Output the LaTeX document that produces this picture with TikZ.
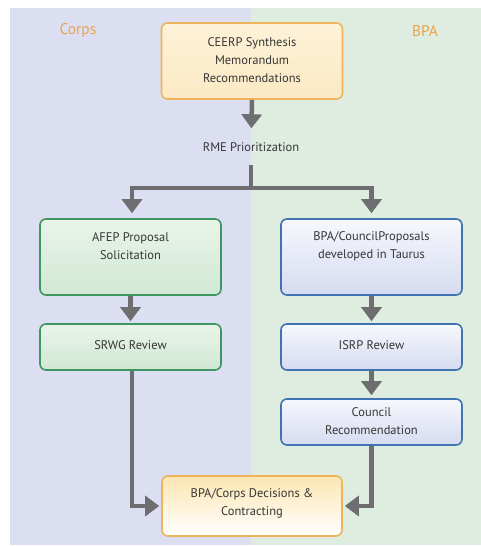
\documentclass[tikz,border=0pt]{standalone}
\usepackage{fontspec}
\setmainfont{PT Sans}
\usetikzlibrary{arrows.meta,positioning}
\definecolor{lav}{HTML}{DCDFF2}
\definecolor{grn}{HTML}{DEEDE0}
\definecolor{obord}{HTML}{EDB45C}
\definecolor{gbord}{HTML}{3E9760}
\definecolor{bbord}{HTML}{3F74B0}
\definecolor{arr}{HTML}{6E6E70}
\definecolor{txt}{HTML}{363636}
\definecolor{lab}{HTML}{E9A54E}
\definecolor{otop}{HTML}{FDF2D8}
\definecolor{obot}{HTML}{FCE9C4}
\definecolor{ftop}{HTML}{FCE6B2}
\definecolor{gtop}{HTML}{E9F4E9}
\definecolor{gbot}{HTML}{D0E8D5}
\definecolor{btop}{HTML}{F7F8FD}
\definecolor{bbot}{HTML}{D5DBF0}
\tikzset{
  box/.style={draw, line width=1.6pt, rounded corners=6pt, minimum width=181pt, inner sep=0pt},
  obox/.style={box, draw=obord, top color=otop, bottom color=obot},
  gbox/.style={box, draw=gbord, top color=gtop, bottom color=gbot},
  bbox/.style={box, draw=bbord, top color=btop, bottom color=bbot},
  tx/.style={text=txt, font=\fontsize{12.5}{18}\selectfont, align=center, inner sep=0pt},
  conn/.style={draw=arr, line width=4.5pt},
  arrw/.style={conn, -{Triangle[width=20pt,length=14pt]}},
  sidelab/.style={text=lab, font=\fontsize{15.5}{18}\selectfont}
}
\begin{document}
\begin{tikzpicture}[x=1pt,y=-1pt]
\useasboundingbox (0,0) rectangle (481,546);
\fill[lav] (10,8) rectangle (251,545);
\fill[grn] (251,8) rectangle (481,545);
\node[sidelab] (corps) at (78,31) {Corps};
\node[sidelab] (bpa) at (425,31) {BPA};

\node[obox, minimum height=76pt] (top) at (252,61) {};
\node[tx] (toptx) at (252,60.5) {CEERP Synthesis\\Memorandum\\Recommendations};

\node[tx] (rme) at (251,147) {RME Prioritization};
\coordinate (split) at (251,188);

\node[gbox, minimum height=76pt] (afep) at (130.5,257) {};
\node[tx] (afeptx) at (130.5,246) {AFEP Proposal\\Solicitation};
\node[bbox, minimum height=76pt] (bpac) at (371.5,257) {};
\node[tx] (bpactx) at (371.5,246) {BPA/CouncilProposals\\developed in Taurus};

\node[gbox, minimum height=46pt] (srwg) at (130.5,347) {};
\node[tx] (srwgtx) at (130.5,345) {SRWG Review};
\node[bbox, minimum height=46pt] (isrp) at (371.5,347) {};
\node[tx] (isrptx) at (371.5,345) {ISRP Review};

\node[bbox, minimum height=46pt] (council) at (371.5,422) {};
\node[tx] (counciltx) at (371.5,421) {Council\\Recommendation};

\node[obox, minimum width=180pt, minimum height=60pt, top color=ftop, bottom color=white] (final) at (252,506) {};
\node[tx] (finaltx) at (252,503.5) {BPA/Corps Decisions \&\\Contracting};

\draw[arrw, shorten >=14pt] (top.south) -- (rme);
\draw[conn, shorten <=13pt] (rme) -- (split);
\draw[arrw, shorten >=5pt] (split) -| ([xshift=1.5pt]afep.north);
\draw[arrw, shorten >=5pt] (split) -| (bpac.north);
\draw[arrw, shorten >=2pt] (afep.south) -- (srwg.north);
\draw[arrw, shorten >=2pt] (bpac.south) -- (isrp.north);
\draw[arrw, shorten >=3pt] (isrp.south) -- (council.north);
\draw[arrw, shorten >=2pt] ([xshift=1.5pt]srwg.south) |- (final.west);
\draw[arrw, shorten >=2pt] (council.south) |- (final.east);
\end{tikzpicture}
\end{document}
